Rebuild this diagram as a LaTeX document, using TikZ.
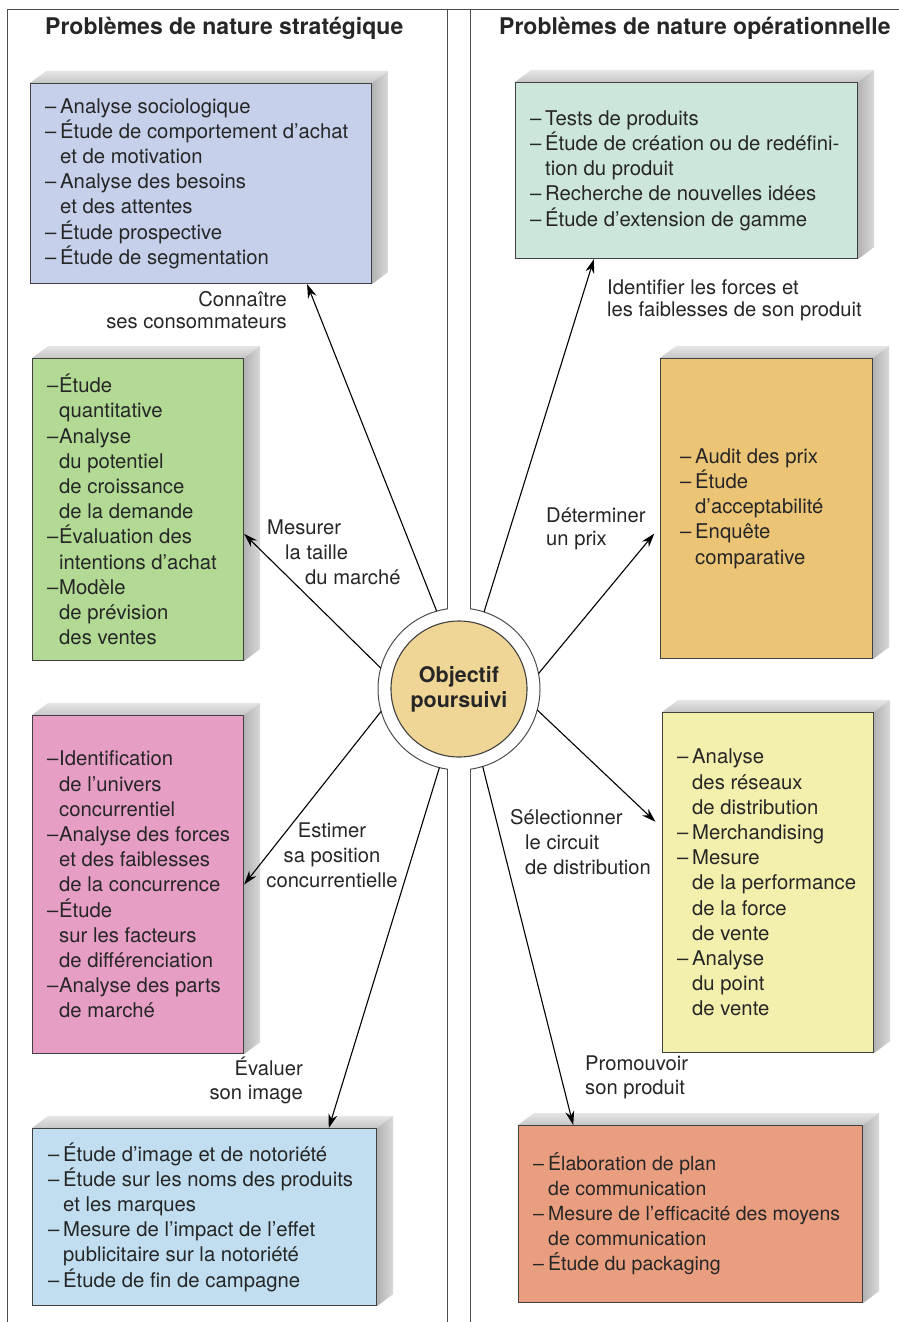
\documentclass[tikz,border=0pt]{standalone}
\usepackage{fontspec}
\setmainfont{TeX Gyre Heros}
\usetikzlibrary{arrows.meta,calc,backgrounds}
\tikzset{>={Stealth[length=14pt,width=9pt]}}
\definecolor{bleu}{RGB}{198,208,234}
\definecolor{turquoise}{RGB}{204,230,218}
\definecolor{vert}{RGB}{178,218,148}
\definecolor{orange}{RGB}{236,196,118}
\definecolor{rose}{RGB}{230,158,196}
\definecolor{citron}{RGB}{242,240,172}
\definecolor{ciel}{RGB}{192,222,240}
\definecolor{saumon}{RGB}{234,158,128}
\definecolor{jaune}{RGB}{240,214,150}
\newcommand{\tiret}[1][15pt]{\makebox[#1][l]{–}}
\newcommand{\retrait}[1][15pt]{\hspace*{#1}}
\tikzset{
	face/.style={draw=black!75, line width=1.1pt, anchor=north west, inner sep=0pt},
	liste/.style={anchor=west, align=left, inner sep=0pt, text=black!85, font=\fontsize{20.3}{25.2}\selectfont},
	etiq/.style={align=left, inner sep=0pt, text=black!85, font=\fontsize{20.2}{#1}\selectfont},
	etiq/.default=24,
	titre/.style={anchor=base west, inner sep=0pt, text=black!85, font=\fontsize{23}{28}\selectfont\bfseries},
	cadre/.style={black!70, line width=1pt}
}

\begin{document}
\begin{tikzpicture}[x=1pt,y=1pt]
	\useasboundingbox (0,0) rectangle (899,-1322);
	\coordinate (haut) at (0,-10);
	\coordinate (bas) at (0,-1322);
	\draw[cadre] (7,-1322) -- (7,-10) -- (899,-10);
	\node[titre] (t1) at (45,-35) {Problèmes de nature stratégique};
	\node[titre] (t2) at (499,-35) {Problèmes de nature opérationnelle};

	\node[circle, minimum size=162pt, inner sep=0pt, outer sep=0pt] (ring) at (459,-689) {};
	\node[circle, draw=black!75, line width=1.1pt, fill=jaune, minimum size=136pt, inner sep=0pt, align=center, text=black!85, font=\fontsize{21.5}{25}\selectfont\bfseries] (obj) at (ring) {Objectif\\poursuivi};
	\draw[cadre] (ring.98) arc[start angle=98, end angle=262, radius=81];
	\draw[cadre] (ring.-82) arc[start angle=-82, end angle=82, radius=81];
	\draw[cadre] (ring.98) -- (ring.98 |- haut);
	\draw[cadre] (ring.82) -- (ring.82 |- haut);
	\draw[cadre] (ring.262) -- (ring.262 |- bas);
	\draw[cadre] (ring.278) -- (ring.278 |- bas);

	\node[face, fill=bleu, minimum width=341pt, minimum height=200pt] (b1) at (30,-83) {};
	\node[face, fill=turquoise, minimum width=342pt, minimum height=176pt] (b2) at (515,-82) {};
	\node[face, fill=vert, minimum width=211pt, minimum height=302pt] (b3) at (32,-358) {};
	\node[face, fill=orange, minimum width=212pt, minimum height=300pt] (b4) at (660,-358) {};
	\node[face, fill=rose, minimum width=211pt, minimum height=338pt] (b5) at (32,-715) {};
	\node[face, fill=citron, minimum width=211pt, minimum height=340pt] (b6) at (662,-712) {};
	\node[face, fill=ciel, minimum width=344pt, minimum height=177pt] (b7) at (32,-1128) {};
	\node[face, fill=saumon, minimum width=344pt, minimum height=177pt] (b8) at (518,-1125) {};
	\begin{pgfonlayer}{background}
		\foreach \n in {1,...,8}{
			\shade[top color=gray!20, bottom color=gray!45] (b\n.north west) -- ++(16,12) -- ([shift={(16,12)}]b\n.north east) -- (b\n.north east) -- cycle;
			\shade[left color=gray!60, right color=gray!30] (b\n.north east) -- ++(16,12) -- ([shift={(16,12)}]b\n.south east) -- (b\n.south east) -- cycle;
		}
	\end{pgfonlayer}

	\node[liste] (l1) at ([xshift=15pt]b1.west) {\tiret Analyse sociologique\\\tiret Étude de comportement d’achat\\\retrait et de motivation\\\tiret Analyse des besoins\\\retrait et des attentes\\\tiret Étude prospective\\\tiret Étude de segmentation};
	\node[liste] (l2) at ([xshift=15pt]b2.west) {\tiret Tests de produits\\\tiret Étude de création ou de redéfini-\\\retrait tion du produit\\\tiret Recherche de nouvelles idées\\\tiret Étude d’extension de gamme};
	\node[liste] (l3) at ([xshift=15pt]b3.west) {\tiret[12pt]Étude\\\retrait[12pt]quantitative\\\tiret[12pt]Analyse\\\retrait[12pt]du potentiel\\\retrait[12pt]de croissance\\\retrait[12pt]de la demande\\\tiret[12pt]Évaluation des\\\retrait[12pt]intentions d’achat\\\tiret[12pt]Modèle\\\retrait[12pt]de prévision\\\retrait[12pt]des ventes};
	\node[liste] (l4) at ([xshift=20pt]b4.west) {\tiret Audit des prix\\\tiret Étude\\\retrait d’acceptabilité\\\tiret Enquête\\\retrait comparative};
	\node[liste] (l5) at ([xshift=15pt]b5.west) {\tiret[12pt]Identification\\\retrait[12pt]de l’univers\\\retrait[12pt]concurrentiel\\\tiret[12pt]Analyse des forces\\\retrait[12pt]et des faiblesses\\\retrait[12pt]de la concurrence\\\tiret[12pt]Étude\\\retrait[12pt]sur les facteurs\\\retrait[12pt]de différenciation\\\tiret[12pt]Analyse des parts\\\retrait[12pt]de marché};
	\node[liste] (l6) at ([xshift=15pt]b6.west) {\tiret Analyse\\\retrait des réseaux\\\retrait de distribution\\\tiret Merchandising\\\tiret Mesure\\\retrait de la performance\\\retrait de la force\\\retrait de vente\\\tiret Analyse\\\retrait du point\\\retrait de vente};
	\node[liste] (l7) at ([xshift=16pt]b7.west) {\tiret Étude d’image et de notoriété\\\tiret Étude sur les noms des produits\\\retrait et les marques\\\tiret Mesure de l’impact de l’effet\\\retrait publicitaire sur la notoriété\\\tiret Étude de fin de campagne};
	\node[liste, font=\fontsize{19.5}{25}\selectfont] (l8) at ([xshift=15pt]b8.west) {\tiret Élaboration de plan\\\retrait de communication\\\tiret Mesure de l’efficacité des moyens\\\retrait de communication\\\tiret Étude du packaging};

	\node[etiq=22, anchor=east, align=right] (e1) at (287,-310) {Connaître\\ses consommateurs};
	\node[etiq=22, anchor=west] (e2) at (607,-300) {Identifier les forces et\\les faiblesses de son produit};
	\node[etiq=25, anchor=west] (e3) at (267,-552) {Mesurer\\\retrait[18pt]la taille\\\retrait[38pt]du marché};
	\node[etiq=23, anchor=west] (e4) at (546,-529) {Déterminer\\un prix};
	\node[etiq=25, anchor=center, align=center] (e5) at (332,-855) {Estimer\\sa position\\concurrentielle};
	\node[etiq=25, anchor=west] (e6) at (510,-842) {Sélectionner\\\retrait le circuit\\\retrait de distribution};
	\node[etiq, anchor=east, align=right] (e7) at (303,-1080) {Évaluer\\son image};
	\node[etiq, anchor=west] (e8) at (585,-1077) {Promouvoir\\son produit};

	\draw[->, line width=1.1pt] (ring.106) -- ($(b1.south west)!0.81!(b1.south east)$);
	\draw[->, line width=1.1pt] (ring.72) -- ($(b2.south west)!0.23!(b2.south east)$);
	\draw[->, line width=1.1pt] (ring.165) -- ($(b3.north east)!0.58!(b3.south east)$);
	\draw[->, line width=1.1pt, shorten >=9pt] (ring.11) -- ($(b4.north west)!0.56!(b4.south west)$);
	\draw[->, line width=1.1pt] (ring.196) -- (b5.east);
	\draw[->, line width=1.1pt, shorten >=9pt] (ring.-15) -- ($(b6.north west)!0.34!(b6.south west)$);
	\draw[->, line width=1.1pt] (ring.256) -- ($(b7.north west)!0.86!(b7.north east)$);
	\draw[->, line width=1.1pt] (ring.287) -- ($(b8.north west)!0.16!(b8.north east)$);
\end{tikzpicture}
\end{document}
